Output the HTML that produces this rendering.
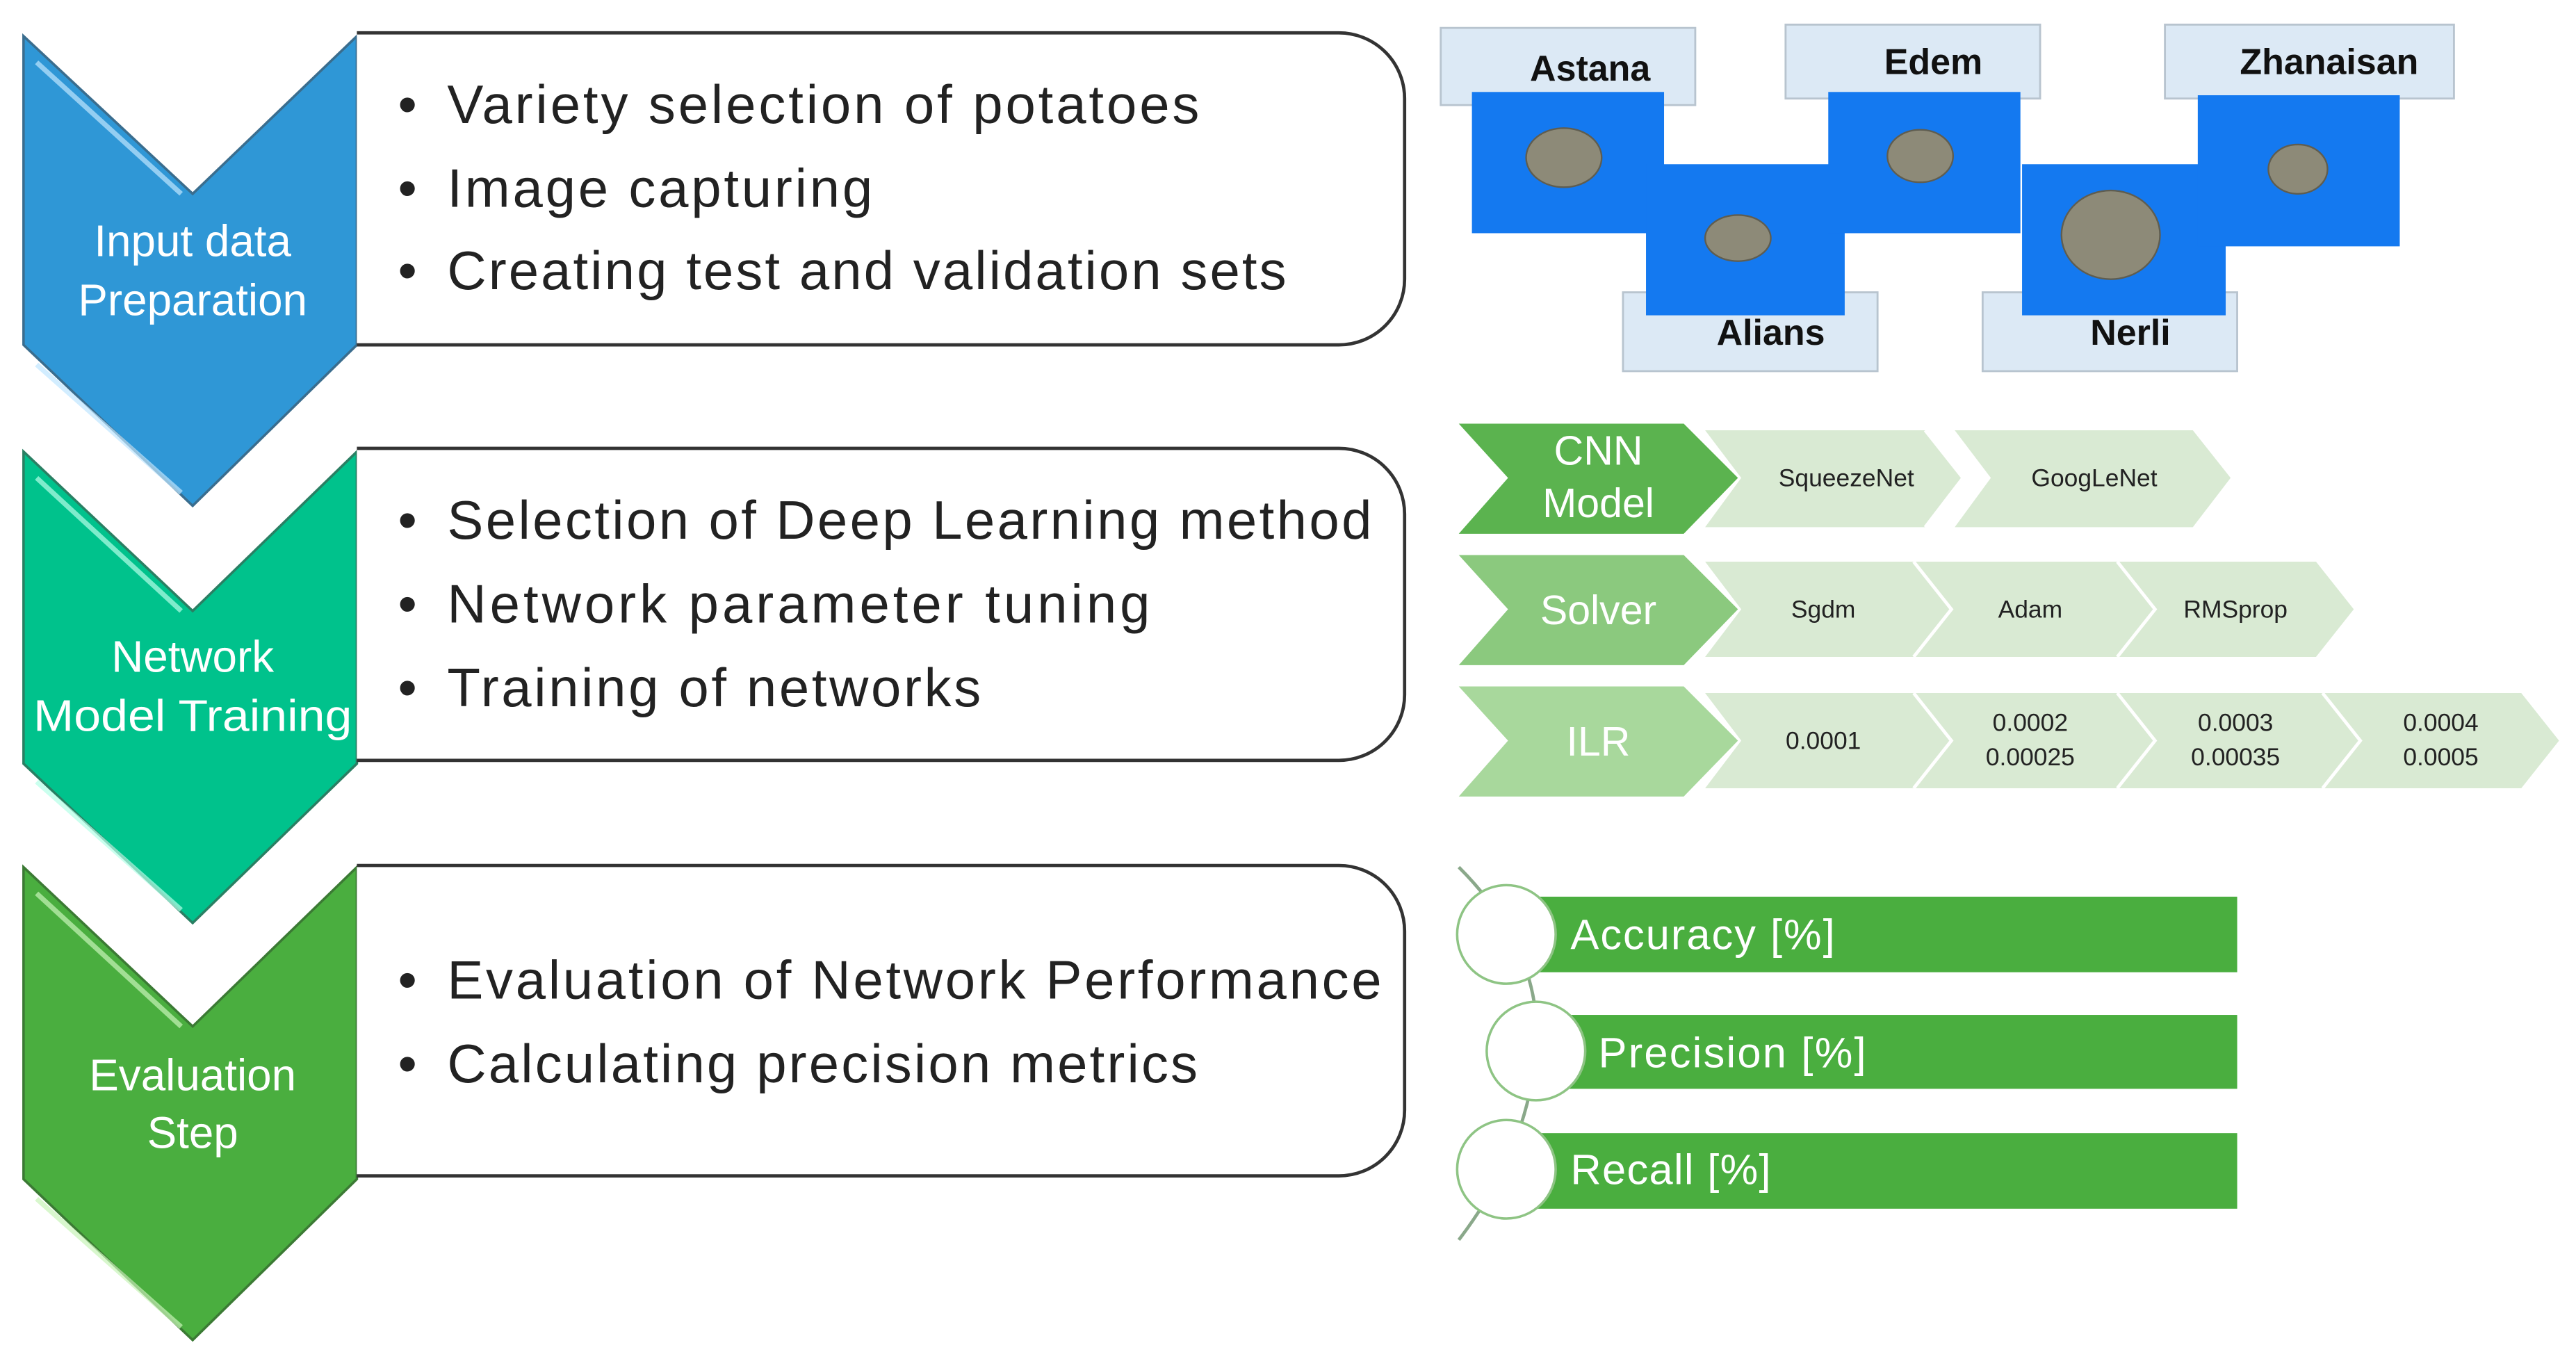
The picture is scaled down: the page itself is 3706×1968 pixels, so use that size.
<!DOCTYPE html>
<html><head><meta charset="utf-8"><style>
html,body{margin:0;padding:0;background:#fff}
svg{display:block}
text{font-family:"Liberation Sans",sans-serif}
</style></head><body>
<svg width="3706" height="1968" viewBox="0 0 1568 833" xmlns="http://www.w3.org/2000/svg">
<polygon points="14,22 117,118 217,22 217,210 117,308 14,210" fill="#2F97D6" stroke="#3a6d8e" stroke-width="1.5"/>
<polygon points="14,275 117,372 217,275 217,465 117,562 14,465" fill="#00C28C" stroke="#2a7f63" stroke-width="1.5"/>
<polygon points="14,528 117,625 217,528 217,718 117,816 14,718" fill="#4AAE3F" stroke="#3b7a34" stroke-width="1.5"/>
<g stroke="#bfe6ff" stroke-width="3" opacity="0.7"><line x1="22" y1="38" x2="110" y2="118"/><line x1="22" y1="222" x2="110" y2="300"/></g>
<g stroke="#b5ffe8" stroke-width="3" opacity="0.7"><line x1="22" y1="291" x2="110" y2="372"/><line x1="22" y1="476" x2="110" y2="554"/></g>
<g stroke="#c8f5b8" stroke-width="3" opacity="0.7"><line x1="22" y1="544" x2="110" y2="625"/><line x1="22" y1="730" x2="110" y2="808"/></g>
<g fill="#fff" font-size="27" text-anchor="middle">
<text x="117" y="156">Input data</text><text x="117" y="192">Preparation</text>
<text x="117" y="409">Network</text><text x="117" y="445" textLength="194" lengthAdjust="spacingAndGlyphs">Model Training</text>
<text x="117" y="664">Evaluation</text><text x="117" y="699">Step</text>
</g>
<g fill="#fff" stroke="#333" stroke-width="2">
<path d="M217,20 H815 A40,40 0 0 1 855,60 V170 A40,40 0 0 1 815,210 H217"/>
<path d="M217,273 H815 A40,40 0 0 1 855,313 V423 A40,40 0 0 1 815,463 H217"/>
<path d="M217,527 H815 A40,40 0 0 1 855,567 V676 A40,40 0 0 1 815,716 H217"/>
</g>
<g fill="#222" font-size="33">
<text x="242" y="75">•</text><text x="242" y="126">•</text><text x="242" y="176">•</text>
<text x="242" y="328">•</text><text x="242" y="379">•</text><text x="242" y="430">•</text>
<text x="242" y="608">•</text><text x="242" y="659">•</text>
<text x="272" y="75" textLength="458">Variety selection of potatoes</text>
<text x="272" y="126" textLength="259">Image capturing</text>
<text x="272" y="176" textLength="511">Creating test and validation sets</text>
<text x="272" y="328" textLength="563">Selection of Deep Learning method</text>
<text x="272" y="379" textLength="428">Network parameter tuning</text>
<text x="272" y="430" textLength="325">Training of networks</text>
<text x="272" y="608" textLength="569">Evaluation of Network Performance</text>
<text x="272" y="659" textLength="457">Calculating precision metrics</text>
</g>
<g fill="#DCE9F5" stroke="#b8c4cf" stroke-width="1.2">
<rect x="877" y="17" width="155" height="47"/>
<rect x="1087" y="15" width="155" height="45"/>
<rect x="1318" y="15" width="176" height="45"/>
<rect x="988" y="178" width="155" height="48"/>
<rect x="1207" y="178" width="155" height="48"/>
</g>
<g fill="#1479F0">
<rect x="896" y="56" width="117" height="86"/>
<rect x="1002" y="100" width="121" height="92"/>
<rect x="1113" y="56" width="117" height="86"/>
<rect x="1231" y="100" width="124" height="92"/>
<rect x="1338" y="58" width="123" height="92"/>
</g>
<g fill="#8d8a78" stroke="#5f5d50" stroke-width="1">
<ellipse cx="952" cy="96" rx="23" ry="18"/>
<ellipse cx="1058" cy="145" rx="20" ry="14"/>
<ellipse cx="1169" cy="95" rx="20" ry="16"/>
<ellipse cx="1285" cy="143" rx="30" ry="27"/>
<ellipse cx="1399" cy="103" rx="18" ry="15"/>
</g>
<g fill="#111" font-size="22" font-weight="bold" text-anchor="middle">
<text x="968" y="49">Astana</text>
<text x="1177" y="45">Edem</text>
<text x="1418" y="45">Zhanaisan</text>
<text x="1078" y="210">Alians</text>
<text x="1297" y="210">Nerli</text>
</g>
<g fill="#D9EAD3">
<polygon points="1038,262 1172,262 1195,291 1172,321 1038,321 1060,291"/>
<polygon points="1190,262 1335,262 1358,291 1335,321 1190,321 1212,291"/>
<polygon points="1038,342 1165,342 1188,371 1165,400 1038,400 1060,371"/>
<polygon points="1162,342 1289,342 1312,371 1289,400 1162,400 1184,371"/>
<polygon points="1286,342 1410,342 1433,371 1410,400 1286,400 1308,371"/>
<polygon points="1038,422 1165,422 1188,451 1165,480 1038,480 1060,451"/>
<polygon points="1162,422 1289,422 1312,451 1289,480 1162,480 1184,451"/>
<polygon points="1286,422 1414,422 1437,451 1414,480 1286,480 1308,451"/>
<polygon points="1411,422 1535,422 1558,451 1535,480 1411,480 1433,451"/>
</g>
<g fill="none" stroke="#fff" stroke-width="2">
<polyline points="1165,342 1188,371 1165,400"/><polyline points="1289,342 1312,371 1289,400"/>
<polyline points="1165,422 1188,451 1165,480"/><polyline points="1289,422 1312,451 1289,480"/><polyline points="1414,422 1437,451 1414,480"/>
<polyline points="1172,262 1195,291 1172,321"/>
</g>
<polygon points="888,258 1025,258 1058,291 1025,325 888,325 918,291" fill="#5BB34F"/>
<polygon points="888,338 1025,338 1058,371 1025,405 888,405 918,371" fill="#8BC97E"/>
<polygon points="888,418 1025,418 1058,451 1025,485 888,485 918,451" fill="#A8D89C"/>
<g fill="#fff" font-size="25" text-anchor="middle">
<text x="973" y="283">CNN</text><text x="973" y="315">Model</text>
<text x="973" y="380">Solver</text>
<text x="973" y="460">ILR</text>
</g>
<g fill="#222" font-size="15" text-anchor="middle">
<text x="1124" y="296">SqueezeNet</text>
<text x="1275" y="296">GoogLeNet</text>
<text x="1110" y="376">Sgdm</text>
<text x="1236" y="376">Adam</text>
<text x="1361" y="376">RMSprop</text>
<text x="1110" y="456">0.0001</text>
<text x="1236" y="445">0.0002</text><text x="1236" y="466">0.00025</text>
<text x="1361" y="445">0.0003</text><text x="1361" y="466">0.00035</text>
<text x="1486" y="445">0.0004</text><text x="1486" y="466">0.0005</text>
</g>
<path d="M888,528 Q940,580 935,640 Q930,700 888,755" fill="none" stroke="#8aa88a" stroke-width="2"/>
<g fill="#4AAE3F">
<rect x="917" y="546" width="445" height="46"/>
<rect x="935" y="618" width="427" height="45"/>
<rect x="917" y="690" width="445" height="46"/>
</g>
<g fill="#fff" stroke="#8ec484" stroke-width="1.5">
<circle cx="917" cy="569" r="30"/>
<circle cx="935" cy="640" r="30"/>
<circle cx="917" cy="712" r="30"/>
</g>
<g fill="#fff" font-size="26">
<text x="956" y="578" textLength="161">Accuracy [%]</text>
<text x="973" y="650" textLength="163">Precision [%]</text>
<text x="956" y="721" textLength="122">Recall [%]</text>
</g>
</svg>
</body></html>
